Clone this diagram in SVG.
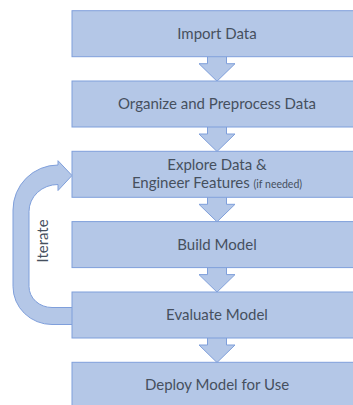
<svg xmlns="http://www.w3.org/2000/svg" width="353" height="405" viewBox="0 0 353 405">
<style>
.box{fill:#B4C7E7;stroke:#7F9FDB;stroke-width:1}
.arr{fill:#B4C7E7;stroke:#7F9FDB;stroke-width:1;stroke-linejoin:miter}
.t{font-family:Lato,"Liberation Sans",Arial,sans-serif;font-size:15px;fill:#46505E;text-anchor:middle}
.s{font-size:10.5px}
</style>
<defs>
<path id="down" d="M-9.5,0 V7 H-18 L0,24.5 L18,7 H9.5 V0"/>
</defs>
<g id="connectors">
<use href="#down" class="arr" x="217" y="56.7"/>
<use href="#down" class="arr" x="217" y="127"/>
<use href="#down" class="arr" x="217" y="197.3"/>
<use href="#down" class="arr" x="217" y="267.6"/>
<use href="#down" class="arr" x="217" y="338"/>
<path id="iterate-arrow" class="arr" d="M72,324.5 H52 A39,38 0 0 1 13,286.5 V210 A45,45 0 0 1 58,165 V160.7 L72,175.5 L58,190.5 V184.5 A29,27 0 0 0 29,211.5 V286.5 A23,21 0 0 0 52,307.5 H72"/>
<text class="t" transform="translate(48,241) rotate(-90)">Iterate</text>
</g>
<g id="n1"><rect class="box" x="72" y="10.7" width="295" height="46"/><text class="t" x="217" y="39">Import Data</text></g>
<g id="n2"><rect class="box" x="72" y="81" width="295" height="46"/><text class="t" x="217" y="108.5">Organize and Preprocess Data</text></g>
<g id="n3"><rect class="box" x="72" y="151.3" width="295" height="46"/><text class="t" x="217" y="169.5">Explore Data &amp;</text><text class="t" x="217" y="187.5">Engineer Features <tspan class="s">(if needed)</tspan></text></g>
<g id="n4"><rect class="box" x="72" y="221.6" width="295" height="46"/><text class="t" x="217" y="249.5">Build Model</text></g>
<g id="n5"><rect class="box" x="72" y="292" width="295" height="46"/><text class="t" x="217" y="319.5">Evaluate Model</text></g>
<g id="n6"><rect class="box" x="72" y="362.3" width="295" height="50"/><text class="t" x="217" y="389.5">Deploy Model for Use</text></g>
</svg>
